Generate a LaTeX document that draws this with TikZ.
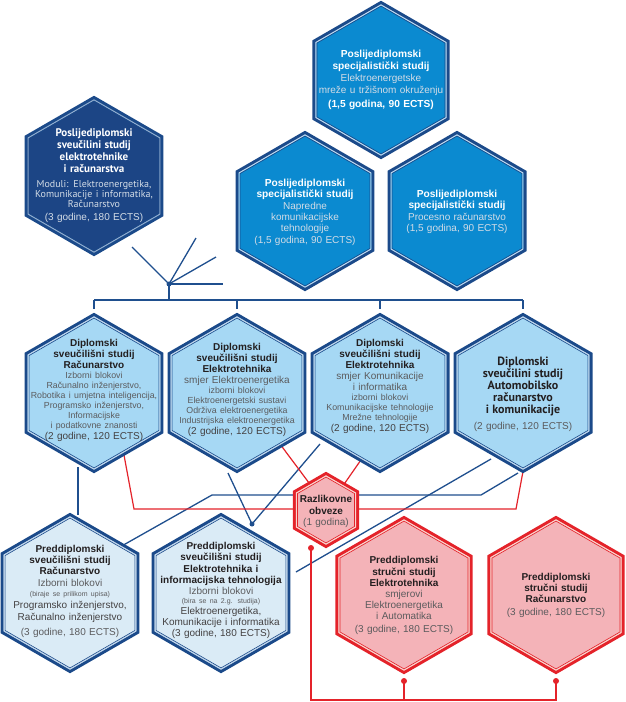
\documentclass[tikz,border=0pt]{standalone}
\usepackage{fontspec}
\setmainfont{Liberation Sans}
\newfontfamily\myriad{PT Sans}
\usetikzlibrary{shapes.geometric,backgrounds}

\definecolor{navy}{HTML}{1B4A8A}
\definecolor{darkfill}{HTML}{1C4585}
\definecolor{specfill}{HTML}{0B8AD0}
\definecolor{diplfill}{HTML}{A6D8F4}
\definecolor{predfill}{HTML}{DAEBF6}
\definecolor{pinkfill}{HTML}{F4B3B8}
\definecolor{redc}{HTML}{E4232A}
\definecolor{paleblue}{HTML}{C2D7EC}
\definecolor{palered}{HTML}{F9D6CF}
\definecolor{ink}{HTML}{231F20}
\definecolor{grayt}{HTML}{5B5B5D}
\definecolor{lightt}{HTML}{D3DCE6}
\definecolor{linkblue}{HTML}{1F4F8E}

\tikzset{
  hexshape/.style={regular polygon, regular polygon sides=6, shape border rotate=30, inner sep=0pt, outer sep=0pt},
  hxtext/.style={align=center, inner sep=0pt, text width=160pt, anchor=base},
  bl/.style={draw=linkblue, line width=1.3pt},
  rl/.style={draw=redc, line width=1.2pt},
  rlt/.style={draw=redc, line width=1.8pt},
  bdot/.style={circle, fill=linkblue, inner sep=0pt, minimum size=5pt},
  rdot/.style={circle, fill=redc, inner sep=0pt, minimum size=6pt},
}

\newcommand\hexa[7]{%
  \node[hexshape, minimum size={2*(#4-1.6)}, fill=#5, draw=#6, line width=3.2pt] (#1) at (#2,#3) {};
  \node[hexshape, minimum size={2*(#4-3.9)}, draw=#7, line width=1.1pt] (#1i) at (#2,#3) {};
  \node[hexshape, minimum size={2*(#4-5.1)}, draw=#6, line width=0.6pt] (#1j) at (#2,#3) {};
}
\newcommand\hxB[3]{{\fontsize{#1}{#2}\selectfont\bfseries #3\par}}
\newcommand\hxR[3]{{\fontsize{#1}{#2}\selectfont #3\par}}

\begin{document}
\begin{tikzpicture}[x=1pt,y=-1pt]
\useasboundingbox (0,0) rectangle (626,702);

% ---------- hexagons ----------
\hexa{tPos}{94}{176}{80}{darkfill}{navy}{paleblue!70!navy}
\hexa{sEl}{381}{80}{79}{specfill}{navy}{paleblue}
\hexa{sNap}{305}{211}{80}{specfill}{navy}{paleblue}
\hexa{sPro}{457}{211}{80}{specfill}{navy}{paleblue}
\hexa{dRac}{94}{393}{80}{diplfill}{navy}{paleblue}
\hexa{dEE}{237}{393}{80}{diplfill}{navy}{paleblue}
\hexa{dEK}{380}{393}{80}{diplfill}{navy}{paleblue}
\hexa{dAuto}{523}{393}{80}{diplfill}{navy}{paleblue}
\hexa{pRac}{70}{593}{80}{predfill}{navy}{paleblue}
\hexa{pEIT}{221}{593}{80}{predfill}{navy}{paleblue}
\hexa{raz}{326}{510}{38}{pinkfill}{redc}{palered}
\hexa{sEE}{404}{595}{79}{pinkfill}{redc}{palered}
\hexa{sRac}{556}{595}{79}{pinkfill}{redc}{palered}

% ---------- texts ----------
\node[hxtext, text=white] (tPosT) at (94,136) {\myriad\hxB{11}{12}{Poslijediplomski\\sveučilini studij\\elektrotehnike\\i računarstva}\color{lightt}\hxR{10}{15}{Moduli: Elektroenergetika,}\hxR{10}{10}{Komunikacije i informatika,\\Računarstvo}\normalfont\hxR{10}{13}{(3 godine, 180 ECTS)}};

\node[hxtext, text=white] (sElT) at (381,57.5) {\hxB{10.2}{12}{Poslijediplomski\\specijalistički studij}\color{lightt}\hxR{10}{12}{Elektroenergetske\\mreže u tržišnom okruženju}\color{white}\hxB{10.2}{13.5}{(1,5 godina, 90 ECTS)}};

\node[hxtext, text=white] (sNapT) at (305,186.5) {\hxB{10.2}{11.3}{Poslijediplomski\\specijalistički studij}\color{lightt}\hxR{10}{11.3}{Napredne\\komunikacijske\\tehnologije\\(1,5 godina, 90 ECTS)}};

\node[hxtext, text=white] (sProT) at (457,197.5) {\hxB{10.2}{11.3}{Poslijediplomski\\specijalistički studij}\color{lightt}\hxR{10}{11.3}{Procesno računarstvo\\(1,5 godina, 90 ECTS)}};

\node[hxtext, text=ink] (dRacT) at (94,346.5) {\hxB{10}{11}{Diplomski\\sveučilišni studij\\Računarstvo}\color{grayt}\hxR{8.8}{10}{Izborni blokovi\\Računalno inženjerstvo,\\Robotika i umjetna inteligencija,\\Programsko inženjerstvo,\\Informacijske\\i podatkovne znanosti}\color{ink!85}\hxR{10}{11}{(2 godine, 120 ECTS)}};

\node[hxtext, text=ink] (dEET) at (237,350.5) {\hxB{10}{11}{Diplomski\\sveučilišni studij\\Elektrotehnika}\color{grayt}\hxR{10}{11}{smjer Elektroenergetika}\hxR{8.8}{10}{izborni blokovi\\Elektroenergetski sustavi\\Održiva elektroenergetika\\Industrijska elektroenergetika}\color{ink!85}\hxR{10}{11}{(2 godine, 120 ECTS)}};

\node[hxtext, text=ink] (dEKT) at (380,346.5) {\hxB{10}{11}{Diplomski\\sveučilišni studij\\Elektrotehnika}\color{grayt}\hxR{10}{11}{smjer Komunikacije\\i informatika}\hxR{8.8}{10}{izborni blokovi\\Komunikacijske tehnologije\\Mrežne tehnologije}\color{ink!85}\hxR{10}{10.5}{(2 godine, 120 ECTS)}};

\node[hxtext, text=ink] (dAutoT) at (523,365) {\myriad\hxB{12}{12}{Diplomski\\sveučilini studij\\Automobilsko\\računarstvo\\i komunikacije}\normalfont\color{grayt}\hxR{10}{16}{(2 godine, 120 ECTS)}};

\node[hxtext, text=ink] (pRacT) at (70,552.5) {\hxB{10}{11}{Preddiplomski\\sveučilišni studij\\Računarstvo}\color{grayt}\hxR{10}{12}{Izborni blokovi}\hxR{7}{10}{(biraje se prilikom upisa)}\color{ink!85}\hxR{10}{12}{Programsko inženjerstvo,\\Računalno inženjerstvo}\color{grayt}\hxR{10}{15}{(3 godine, 180 ECTS)}};

\node[hxtext, text=ink] (pEITT) at (221,549.5) {\hxB{10}{11.3}{Preddiplomski\\sveučilišni studij\\Elektrotehnika i\\informacijska tehnologija}\color{grayt}\hxR{10}{11}{Izborni blokovi}\hxR{7}{9}{(bira se na 2.g. studija)}\color{ink!85}\hxR{10}{11}{Elektroenergetika,\\Komunikacije i informatika\\(3 godine, 180 ECTS)}};

\node[hxtext, text=ink] (razT) at (326,502.5) {\hxB{10}{12}{Razlikovne\\obveze}\color{grayt}\hxR{10}{10.5}{(1 godina)}};

\node[hxtext, text=ink] (sEET) at (404,563.5) {\hxB{10}{11.5}{Preddiplomski\\stručni studij\\Elektrotehnika}\color{grayt}\hxR{10}{11}{smjerovi\\Elektroenergetika\\i Automatika}\hxR{10}{13}{(3 godine, 180 ECTS)}};

\node[hxtext, text=ink] (sRacT) at (556,580.5) {\hxB{10}{11}{Preddiplomski\\stručni studij\\Računarstvo}\color{grayt}\hxR{10}{13}{(3 godine, 180 ECTS)}};

% ---------- connectors (behind) ----------
\begin{scope}[on background layer]
\fill[white] (0,0) rectangle (626,702);
\coordinate (star) at (169,284);
\coordinate (st1) at (132,247);
\coordinate (st2) at (196,238);
\coordinate (st3) at (216,257);
\coordinate (st4) at (223,284);
\foreach \s in {st1,st2,st3,st4} \draw[bl] (star) -- (\s);
\coordinate (busL) at (94,300);
\coordinate (busR) at (523,300);
\draw[bl] (busL) -- (busR);
\draw[bl] (star) -- (star |- busL);
\foreach \h in {dRac,dEE,dEK,dAuto} \draw[bl] (\h.90 |- busL) -- ([yshift=6pt]\h.90);

\coordinate (vA) at (78,467);
\coordinate (vB) at (78,515);
\draw[bl] (vA) -- (vB);

\coordinate (pbA) at (212,495);
\coordinate (pbB) at (481,495);
\coordinate (pbC) at (518,473);
\draw[bl] (pRac.42) -- (pbA) -- (pbB) -- (pbC);

\coordinate (jdot) at (252,524);
\coordinate (eeA) at (228,473);
\coordinate (ekA) at (320,444);
\draw[bl] (eeA) -- (jdot);
\draw[bl] (ekA) -- (jdot);

\coordinate (eitA) at (296,572);
\coordinate (eitB) at (491,459);
\draw[bl] (eitA) -- (eitB);

\coordinate (rA) at (134,509);
\coordinate (rB) at (516,509);
\draw[rl] (dRac.-64) -- (rA) -- (rB) -- (dAuto.-90);
\draw[rl] (dEE.-50) -- (raz.122);
\draw[rl] (dEK.-106) -- (raz.55);

\coordinate (rdA) at (311,548);
\coordinate (rdB) at (311,700);
\coordinate (rdC) at (556,700);
\coordinate (rdE) at (404,681);
\coordinate (rdF) at (556,681);
\draw[rlt] (rdA) -- (rdB) -- (rdC) -- (rdF);
\draw[rlt] (rdE) -- (rdE |- rdB);
\end{scope}

% ---------- dots ----------
\node[bdot] (starDot) at (star) {};
\node[bdot] (jDot) at (jdot) {};
\node[rdot] (rDotA) at (rdA) {};
\node[rdot] (rDotE) at (rdE) {};
\node[rdot] (rDotF) at (rdF) {};
\end{tikzpicture}
\end{document}
